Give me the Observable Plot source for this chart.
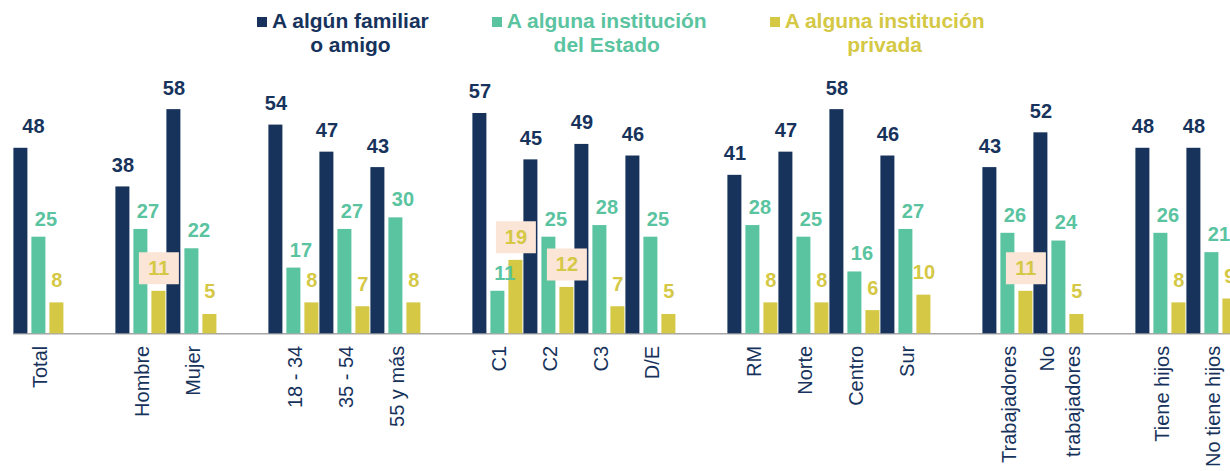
<!DOCTYPE html>
<html>
<head>
<meta charset="utf-8">
<script src="https://cdn.jsdelivr.net/npm/d3@7"></script>
<script src="https://cdn.jsdelivr.net/npm/@observablehq/plot@0.6"></script>
<style>
html, body { margin: 0; padding: 0; background: #fff; overflow: hidden; width: 1230px; height: 471px; }
#legend { position: relative; height: 62px; font-family: "Liberation Sans", Arial, sans-serif; font-weight: bold; font-size: 21px; line-height: 24px; display: flex; gap: 63px; padding-left: 257px; box-sizing: border-box; padding-top: 9px; }
.item { display: flex; align-items: flex-start; white-space: nowrap; }
.sw { width: 10px; height: 10px; margin-top: 8px; margin-right: 5px; flex: none; }
.txt { text-align: center; }
#chart { width: 1230px; height: 409px; overflow: hidden; }
</style>
</head>
<body>
<div id="legend"></div>
<div id="chart"></div>
<script>
// ---- data ----
const seriesKeys = ["familiar", "estado", "privada"];
const seriesNames = ["A algún familiar\no amigo", "A alguna institución\ndel Estado", "A alguna institución\nprivada"];
const seriesColors = ["#17335C", "#5AC3A0", "#D4C845"];

const groups = [
  ["Total"],
  ["Hombre", "Mujer"],
  ["18 - 34", "35 - 54", "55 y más"],
  ["C1", "C2", "C3", "D/E"],
  ["RM", "Norte", "Centro", "Sur"],
  ["Trabajadores", "No trabajadores"],
  ["Tiene hijos", "No tiene hijos"]
];
const categories = groups.flat();
const tickLabels = ["Total", "Hombre", "Mujer", "18 - 34", "35 - 54", "55 y más", "C1", "C2", "C3", "D/E",
  "RM", "Norte", "Centro", "Sur", "Trabajadores", "No\ntrabajadores", "Tiene hijos", "No tiene hijos"];

const familiar = [48, 38, 58, 54, 47, 43, 57, 45, 49, 46, 41, 47, 58, 46, 43, 52, 48, 48];
const estado   = [25, 27, 22, 17, 27, 30, 11, 25, 28, 25, 28, 25, 16, 27, 26, 24, 26, 21];
const privada  = [ 8, 11,  5,  8,  7,  8, 19, 12,  7,  5,  8,  8,  6, 10, 11,  5,  8,  9];

// labels shown on a highlighted box
const highlighted = [["Hombre", "privada"], ["C1", "privada"], ["C2", "privada"], ["Trabajadores", "privada"]];

// ---- build ----
const valuesBySeries = [familiar, estado, privada];
const data = categories.flatMap((c, i) => seriesKeys.map((s, j) => ({cat: c, series: s, value: valuesBySeries[j][i]})));
const isHi = d => highlighted.some(([c, s]) => c === d.cat && s === d.series);

// slots: categories with an empty spacer slot between groups
const slots = groups.flatMap((g, i) => i ? ["__gap" + i, ...g] : g);

// legend
const legend = d3.select("#legend");
seriesKeys.forEach((k, i) => {
  const it = legend.append("div").attr("class", "item").style("color", seriesColors[i]);
  it.append("span").attr("class", "sw").style("background", seriesColors[i]);
  it.append("span").attr("class", "txt").html(seriesNames[i].split("\n").join("<br>"));
});

const W = 1237, ML = 12.6;
const slotW = (W - ML) / slots.length;
const navy = seriesColors[0];
const font = "Liberation Sans, Arial, sans-serif";
const boxSymbol = {draw(ctx) { ctx.rect(-20, -16, 40, 32); }};
const lab = {fx: "cat", x: "series", y: "value", text: "value", fill: "series", fontWeight: "bold", fontSize: 20};

const chart = Plot.plot({
  width: W,
  height: 409,
  marginLeft: ML,
  marginRight: 0,
  marginTop: 39.4,
  marginBottom: 137.7,
  facet: {marginTop: 0, marginRight: 0, marginBottom: 0, marginLeft: 0},
  fx: {domain: slots, padding: 0, axis: null, label: null},
  x: {domain: seriesKeys, paddingInner: 0.25, paddingOuter: 0, axis: null},
  y: {domain: [0, 60], axis: null},
  color: {domain: seriesKeys, range: seriesColors},
  style: {fontFamily: font, background: "transparent", maxWidth: "none"},
  marks: [
    Plot.ruleY(slots, {fx: d => d, y: 0, stroke: "#A6A6A6", strokeWidth: 1.5}),
    Plot.ruleX(slots, {fx: d => d, y1: 0, y2: 0, insetBottom: -7, dx: -slotW / 2, stroke: "#A6A6A6", strokeWidth: 1.5}),
    Plot.barY(data, {fx: "cat", x: "series", y: "value", fill: "series"}),
    Plot.dot(data.filter(isHi), {fx: "cat", x: "series", y: "value", dy: -23, symbol: boxSymbol, fill: "#FBE5D6", stroke: null}),
    Plot.text(data.filter(d => d.series === "familiar" && d.cat !== categories[0]), {...lab, dy: -21.5}),
    Plot.text(data.filter(d => d.series === "familiar" && d.cat === categories[0]), {...lab, dy: -21.5, dx: 12.5}),
    Plot.text(data.filter(d => d.series === "estado"), {...lab, dy: -18, dx: 7}),
    Plot.text(data.filter(d => d.series === "privada"), {...lab, dy: -22.5}),
    Plot.text(categories, {fx: d => d, text: (d, i) => tickLabels[i], frameAnchor: "bottom", rotate: -90,
      textAnchor: "end", lineAnchor: "middle", dy: 12, fontSize: 20, fill: navy, lineHeight: 1.3})
  ]
});
document.getElementById("chart").appendChild(chart);
</script>
</body>
</html>
